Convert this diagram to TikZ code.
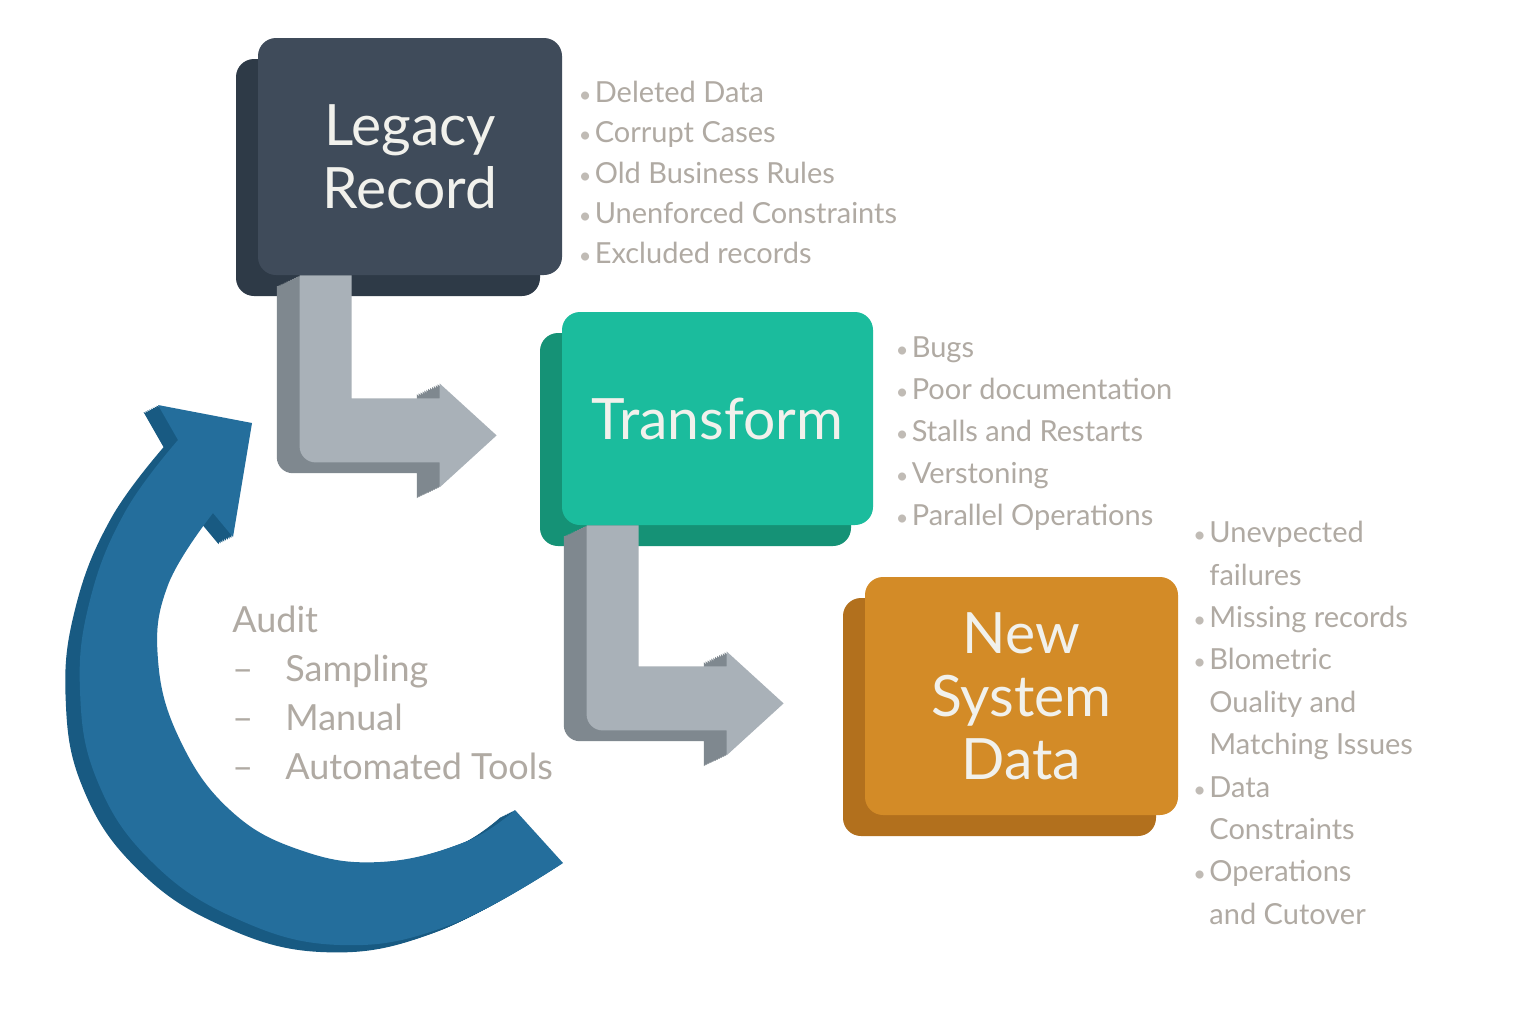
\documentclass[tikz,border=0pt]{standalone}
\usepackage{fontspec}
\setmainfont{Lato}
\usepackage{tikz}
\usetikzlibrary{positioning,calc,shadows}
\definecolor{SlateFace}{HTML}{3F4B5A}
\definecolor{SlateSide}{HTML}{2E3A47}
\definecolor{TealFace}{HTML}{1BBC9D}
\definecolor{TealSide}{HTML}{159276}
\definecolor{AmberFace}{HTML}{D38B27}
\definecolor{AmberSide}{HTML}{B2701D}
\definecolor{ArrowFace}{HTML}{A9B1B8}
\definecolor{ArrowSide}{HTML}{7F888F}
\definecolor{LoopFace}{HTML}{246E9C}
\definecolor{LoopSide}{HTML}{185A82}
\definecolor{NoteGray}{HTML}{B0AAA3}
\definecolor{BoxText}{HTML}{F1F1EC}
\newcommand\blt{\makebox[8pt][l]{\color{NoteGray!80}\scalebox{0.75}{\textbullet}}}
\newcommand\cnt{\hspace*{8pt}}
\newcommand\dsh{\makebox[26.5pt][l]{--}}
\def\looppath{plot[smooth,tension=0.7] coordinates {(178,440) (125,512) (90,600) (80,690) (97,780) (150,860) (235,918) (340,945) (450,925) (563,863)}
  -- plot[smooth,tension=0.7] coordinates {(515,810) (465,842) (380,862) (300,850) (230,810) (180,740) (158,660) (168,585) (213,513)}
  -- (233,537) -- (252,423) -- (158,405) -- cycle}
\tikzset{
  facebox/.style={rounded corners=9pt,align=center,inner sep=0pt,text=BoxText,font=\fontsize{28.5}{31.5}\selectfont},
  slab/.style={copy shadow={shadow xshift=-11pt,shadow yshift=-10.5pt,fill=#1,draw=none}},
  notelist/.style={align=left,inner sep=0pt,text=NoteGray,font=\fontsize{14.5}{20.2}\selectfont},
  pics/elbow/.style={code={
    \foreach \k in {1,...,12}
      \fill[ArrowSide,shift={(-1.9*\k,0.9*\k)}] (0,0) -- (52,0) -- (52,123+#1) -- (140,123+#1) -- (140,108+#1) -- (197,160+#1) -- (140,212+#1) -- (140,187+#1) {[rounded corners=8pt] -- (0,187+#1) -- (0,100)} -- cycle;
    \fill[ArrowFace] (0,0) -- (52,0) -- (52,123+#1) -- (140,123+#1) -- (140,108+#1) -- (197,160+#1) -- (140,212+#1) -- (140,187+#1) {[rounded corners=8pt] -- (0,187+#1) -- (0,100)} -- cycle;
  }}
}
\begin{document}
\begin{tikzpicture}[x=0.5pt,y=-0.5pt]
\fill[white] (0,0) rectangle (1536,1024);
\useasboundingbox (0,0) rectangle (1536,1024);
% audit loop
\foreach \k in {1,...,8}
  \fill[LoopSide,shift={(-1.8*\k,0.9*\k)}] \looppath;
\fill[LoopFace] \looppath;
\node[notelist,font=\fontsize{18}{24.5}\selectfont,anchor=north west] (audit) at (232,606) {Audit\\\dsh Sampling\\\dsh Manual\\\dsh Automated Tools};
% stages
\node[facebox,slab=SlateSide,fill=SlateFace,minimum width=152pt,minimum height=118.5pt] (legacy) at (410,156.5) {Legacy\\Record};
\node[facebox,slab=TealSide,fill=TealFace,minimum width=155.5pt,minimum height=106.5pt] (transform) at (717.5,418.5) {Transform};
\node[facebox,slab=AmberSide,fill=AmberFace,minimum width=156.5pt,minimum height=119pt] (newsys) at (1021.5,696) {New\\System\\Data};
\pic at ($(legacy.south west)+(42,0)$) {elbow=0};
\pic at ($(transform.south west)+(25,0)$) {elbow=18};
% issue lists
\node[notelist,below right=21.5pt and 8pt of legacy.north east] (legacynotes) {\blt Deleted Data\\\blt Corrupt Cases\\\blt Old Business Rules\\\blt Unenforced Constraints\\\blt Excluded records};
\node[notelist,font=\fontsize{14.5}{21}\selectfont,below right=12.5pt and 11pt of transform.north east] (transformnotes) {\blt Bugs\\\blt Poor documentation\\\blt Stalls and Restarts\\\blt Verstoning\\\blt Parallel Operations};
\node[notelist,font=\fontsize{14.5}{21.2}\selectfont,anchor=north west] (newsysnotes) at (1193,521) {\blt Unevpected\\\cnt failures\\\blt Missing records\\\blt Blometric\\\cnt Ouality and\\\cnt Matching Issues\\\blt Data\\\cnt Constraints\\\blt Operations\\\cnt and Cutover};
\end{tikzpicture}
\end{document}
